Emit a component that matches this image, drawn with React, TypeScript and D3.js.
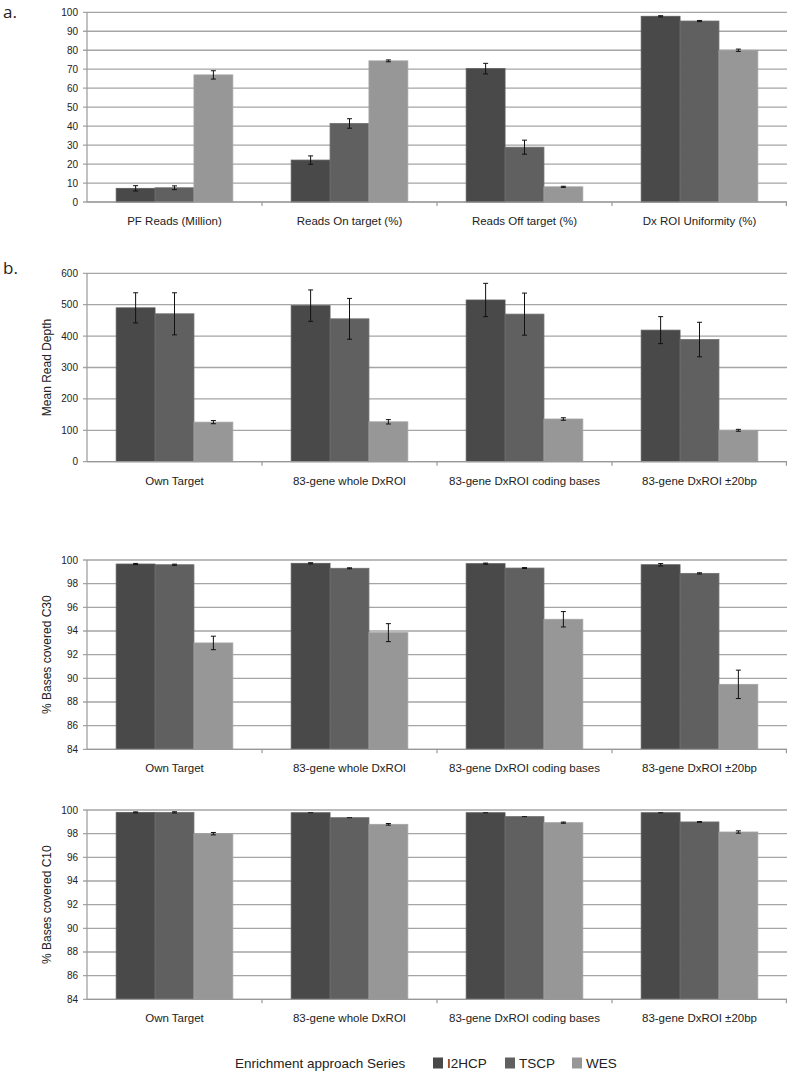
import React from "react";
import * as d3 from "d3";

const seriesNames = ["I2HCP", "TSCP", "WES"];
const seriesColors = ["#494949", "#606060", "#979797"];
const seriesStroke = ["#5a5a5a", "#6e6e6e", "#a3a3a3"];

const catsA = ["PF Reads (Million)", "Reads On target (%)", "Reads Off target (%)", "Dx ROI Uniformity (%)"];
const catsB = ["Own Target", "83-gene whole DxROI", "83-gene DxROI coding bases", "83-gene DxROI \u00b120bp"];

// Panel a values [category][series]
const aValues = [[7.2, 7.5, 67.0], [22.1, 41.4, 74.4], [70.3, 28.9, 8.0], [97.9, 95.4, 80.0]];
const aErrors = [[1.4, 1.0, 2.2], [2.2, 2.5, 0.5], [2.8, 3.7, 0.3], [0.3, 0.3, 0.6]];

const depthValues = [[490, 471, 126], [497, 455, 127], [515, 470, 136], [419, 389, 100]];
const depthErrors = [[48, 67, 5], [50, 65, 7], [53, 67, 4], [43, 55, 3]];

const c30Values = [[99.66, 99.6, 92.99], [99.72, 99.3, 93.86], [99.69, 99.32, 94.99], [99.6, 98.87, 89.49]];
const c30Errors = [[0.05, 0.05, 0.57], [0.05, 0.04, 0.76], [0.05, 0.04, 0.65], [0.1, 0.05, 1.2]];

const c10Values = [[99.8, 99.8, 98.0], [99.77, 99.35, 98.79], [99.77, 99.44, 98.93], [99.77, 98.99, 98.14]];
const c10Errors = [[0.04, 0.05, 0.1], [0.0, 0.0, 0.07], [0.0, 0.0, 0.05], [0.0, 0.03, 0.1]];

const ticksA = d3.range(0, 101, 10);
const ticksDepth = d3.range(0, 601, 100);
const ticksCov = d3.range(84, 101, 2);

const FONT = "Liberation Sans, Arial, sans-serif";
const X0 = 87;
const X1 = 787;

type PanelProps = {
  top: number;
  bottom: number;
  domain: [number, number];
  ticks: number[];
  cats: string[];
  values: number[][];
  errors: number[][];
  title?: string;
};

function Panel({ top, bottom, domain, ticks, cats, values, errors, title }: PanelProps) {
  const y = d3.scaleLinear().domain(domain).range([bottom, top]);
  const xc = d3.scaleBand<string>().domain(cats).range([X0, X1]).padding(0);
  const xs = d3.scaleBand<string>().domain(seriesNames).range([0, xc.bandwidth()]).paddingInner(0).paddingOuter(0.75);
  const bw = xs.bandwidth();
  return (
    <g>
      {ticks.map((t) => (
        <g key={"g" + t}>
          <line x1={X0 - 4} x2={X1} y1={y(t)} y2={y(t)} stroke="#a5a5a5" strokeWidth={1.3} />
          <text x={78} y={y(t)} dy="0.35em" textAnchor="end" fontSize={10} fontFamily={FONT} fill="#222">
            {t}
          </text>
        </g>
      ))}
      {cats.map((c, ci) =>
        seriesNames.map((s, si) => {
          const v = values[ci][si];
          const e = errors[ci][si];
          const bx = (xc(c) as number) + (xs(s) as number);
          const cx = bx + bw / 2;
          return (
            <g key={c + s}>
              <rect
                x={bx}
                y={y(v)}
                width={bw}
                height={bottom - y(v)}
                fill={seriesColors[si]}
                stroke={seriesStroke[si]}
                strokeWidth={0.8}
              />
              {e > 0 && (
                <g stroke="#111" strokeWidth={1}>
                  <line x1={cx} x2={cx} y1={y(v + e)} y2={y(v - e)} />
                  <line x1={cx - 2.5} x2={cx + 2.5} y1={y(v + e)} y2={y(v + e)} />
                  <line x1={cx - 2.5} x2={cx + 2.5} y1={y(v - e)} y2={y(v - e)} />
                </g>
              )}
              {e === 0 && <line x1={cx - 2.5} x2={cx + 2.5} y1={y(v)} y2={y(v)} stroke="#111" strokeWidth={1} />}
            </g>
          );
        })
      )}
      <line x1={X0} x2={X0} y1={top} y2={bottom} stroke="#999" strokeWidth={1.2} />
      <line x1={X0} x2={X1} y1={bottom} y2={bottom} stroke="#999" strokeWidth={1.2} />
      {cats.map((c) => {
        const xr = (xc(c) as number) + xc.bandwidth();
        return <line key={"tk" + c} x1={Math.min(xr, X1 - 0.6)} x2={Math.min(xr, X1 - 0.6)} y1={bottom} y2={bottom + 4} stroke="#999" strokeWidth={1.2} />;
      })}
      {cats.map((c) => (
        <text
          key={"lbl" + c}
          x={(xc(c) as number) + xc.bandwidth() / 2}
          y={bottom + 23}
          textAnchor="middle"
          fontSize={11.5}
          fontFamily={FONT}
          fill="#222"
        >
          {c}
        </text>
      ))}
      {title && (
        <text
          transform={`translate(47,${(top + bottom) / 2}) rotate(-90)`}
          textAnchor="middle"
          dy="0.35em"
          fontSize={12}
          fontFamily={FONT}
          fill="#222"
        >
          {title}
        </text>
      )}
    </g>
  );
}

export default function App() {
  const legendY = 1063;
  const legendItems = [
    { x: 433, tx: 447 },
    { x: 505, tx: 519 },
    { x: 572, tx: 586 },
  ];
  return (
    <svg
      width={787}
      height={1075}
      style={{ position: "absolute", left: 0, top: 0, background: "#fff" }}
      xmlns="http://www.w3.org/2000/svg"
    >
      <rect x={0} y={0} width={787} height={1075} fill="#fff" />
      <text x={3} y={18} fontSize={17} fontFamily="Open Sans, sans-serif" fill="#222">a.</text>
      <text x={3} y={274} fontSize={17} fontFamily="Open Sans, sans-serif" fill="#222">b.</text>
      <Panel top={12.3} bottom={202} domain={[0, 100]} ticks={ticksA} cats={catsA} values={aValues} errors={aErrors} />
      <Panel top={273.3} bottom={461.7} domain={[0, 600]} ticks={ticksDepth} cats={catsB} values={depthValues} errors={depthErrors} title="Mean Read Depth" />
      <Panel top={560} bottom={749.3} domain={[84, 100]} ticks={ticksCov} cats={catsB} values={c30Values} errors={c30Errors} title="% Bases covered C30" />
      <Panel top={810} bottom={999.3} domain={[84, 100]} ticks={ticksCov} cats={catsB} values={c10Values} errors={c10Errors} title="% Bases covered C10" />
      <text x={235} y={legendY} dy="0.35em" fontSize={13.5} fontFamily={FONT} fill="#222">
        Enrichment approach Series
      </text>
      {seriesNames.map((s, i) => (
        <g key={"lg" + s}>
          <rect x={legendItems[i].x} y={legendY - 5.5} width={10} height={11} fill={seriesColors[i]} />
          <text x={legendItems[i].tx} y={legendY} dy="0.35em" fontSize={13.5} fontFamily={FONT} fill="#222">
            {s}
          </text>
        </g>
      ))}
    </svg>
  );
}
